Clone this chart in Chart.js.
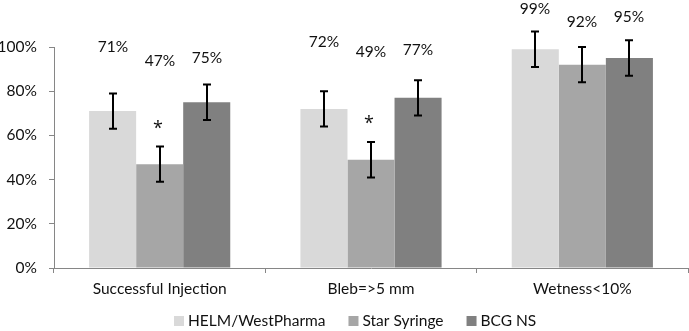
<!DOCTYPE html>
<html>
<head>
<meta charset="utf-8">
<script src="https://cdn.jsdelivr.net/npm/chart.js@4.4.1/dist/chart.umd.min.js"></script>
<style>
  html, body { margin: 0; padding: 0; background: #fff; }
  #wrap { width: 689px; height: 331px; }
</style>
</head>
<body>
<div id="wrap"><canvas id="syringes"></canvas></div>
<script>
const labels = ['Successful Injection', 'Bleb=>5 mm', 'Wetness<10%'];
const seriesNames = ['HELM/WestPharma', 'Star Syringe', 'BCG NS'];

// values (%)
const helm = [71, 72, 99];
const star = [47, 49, 92];
const bcg = [75, 77, 95];

// error (+/-)
const helmErr = [8, 8, 8];
const starErr = [8, 8, 8];
const bcgErr = [8, 8, 8];

// where each value label sits (in % on y)
const helmLabelAt = [100, 102.3, 117];
const starLabelAt = [93.7, 97.7, 111.3];
const bcgLabelAt = [95, 98.6, 113.6];

// significance marks
const starSig = ['*', '*', ''];

const yTicks = [0, 20, 40, 60, 80, 100];

const colors = ['#d9d9d9', '#a6a6a6', '#808080'];
const axisColor = '#868686';
const textColor = '#111';
const FONT = "Lato, 'Open Sans', sans-serif";
const FS = 15.5;

const errs = [helmErr, starErr, bcgErr];
const labelAt = [helmLabelAt, starLabelAt, bcgLabelAt];
const sigs = [['', '', ''], starSig, ['', '', '']];

// error bars, value labels, asterisks
const extras = {
	id: 'extras',
	afterDatasetsDraw(chart) {
		const ctx = chart.ctx;
		const y = chart.scales.y;
		ctx.save();
		chart.data.datasets.forEach((ds, i) => {
			const meta = chart.getDatasetMeta(i);
			meta.data.forEach((bar, j) => {
				const v = ds.data[j];
				const e = errs[i][j];
				const x = Math.round(bar.x);
				const top = y.getPixelForValue(v + e);
				const bot = y.getPixelForValue(v - e);
				ctx.strokeStyle = '#000';
				ctx.lineWidth = 2;
				ctx.beginPath();
				ctx.moveTo(x, top);
				ctx.lineTo(x, bot);
				ctx.moveTo(x - 4, top);
				ctx.lineTo(x + 4, top);
				ctx.moveTo(x - 4, bot);
				ctx.lineTo(x + 4, bot);
				ctx.stroke();

				ctx.fillStyle = textColor;
				ctx.font = FS + 'px ' + FONT;
				ctx.textAlign = 'center';
				ctx.textBaseline = 'middle';
				ctx.fillText(v + '%', x, y.getPixelForValue(labelAt[i][j]));

				if (sigs[i][j]) {
					ctx.font = "18px 'Open Sans', sans-serif";
					ctx.fillText(sigs[i][j], x - 2, top - 18);
				}
			});
		});
		ctx.restore();
	}
};

// legend drawn by hand so it can sit close under the axis labels
const legendBottom = {
	id: 'legendBottom',
	afterDraw(chart) {
		const ctx = chart.ctx;
		ctx.save();
		ctx.font = FS + 'px ' + FONT;
		ctx.textBaseline = 'middle';
		ctx.textAlign = 'left';
		let x = 174;
		const yMid = 321;
		chart.data.datasets.forEach(ds => {
			ctx.fillStyle = ds.backgroundColor;
			ctx.fillRect(x, yMid - 5, 10, 10);
			ctx.fillStyle = textColor;
			ctx.fillText(ds.label, x + 14, yMid);
			x += 14 + ctx.measureText(ds.label).width + 23;
		});
		ctx.restore();
	}
};

const data_syringes = {
	labels: labels,
	datasets: [helm, star, bcg].map((d, i) => ({
		label: seriesNames[i],
		data: d,
		backgroundColor: colors[i],
		borderWidth: 0,
		categoryPercentage: 0.668,
		barPercentage: 1.0,
	}))
};

const config_syringes = {
	type: 'bar',
	data: data_syringes,
	plugins: [extras, legendBottom],
	options: {
		responsive: false,
		animation: false,
		maintainAspectRatio: false,
		layout: { padding: { top: 47, right: 1, left: 0, bottom: 0 } },
		plugins: {
			legend: { display: false },
			tooltip: { enabled: false },
			title: { display: false }
		},
		scales: {
			x: {
				afterFit: s => { s.height = 63; },
				grid: {
					display: true,
					drawOnChartArea: false,
					drawTicks: true,
					tickLength: 5,
					color: axisColor,
					offset: true,
				},
				border: { color: axisColor, width: 1 },
				ticks: {
					color: textColor,
					padding: 7,
					font: { family: FONT, size: FS },
				},
			},
			y: {
				min: 0,
				max: 100,
				afterFit: s => { s.width = 54; },
				afterBuildTicks: s => { s.ticks = yTicks.map(v => ({ value: v })); },
				grid: {
					display: true,
					drawOnChartArea: false,
					drawTicks: true,
					tickLength: 5,
					color: axisColor,
				},
				border: { color: axisColor, width: 1 },
				ticks: {
					color: textColor,
					padding: 12,
					font: { family: FONT, size: FS },
					callback: v => v + '%',
				},
			},
		}
	},
};

const canvas = document.getElementById('syringes');
canvas.width = 689;
canvas.height = 331;
const syringes = new Chart(canvas, config_syringes);
</script>
</body>
</html>
